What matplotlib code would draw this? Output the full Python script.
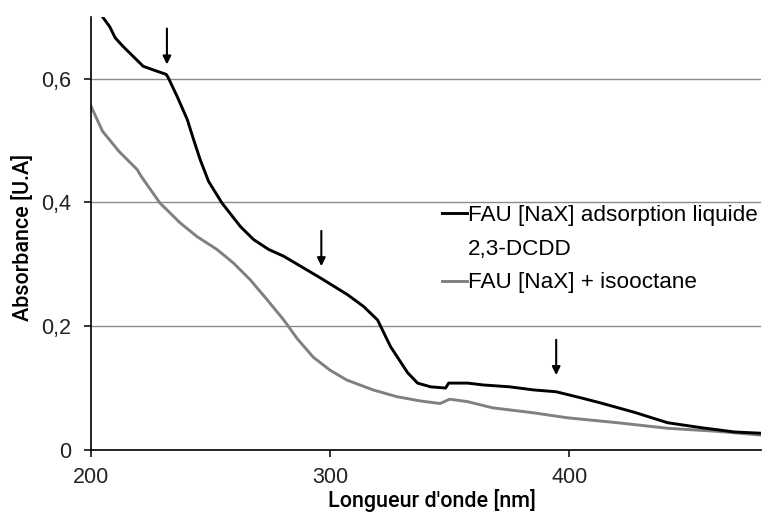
import matplotlib
matplotlib.use("Agg")
import matplotlib.pyplot as plt
from matplotlib.lines import Line2D
from matplotlib.ticker import FuncFormatter

# black curve: FAU [NaX] adsorption liquide 2,3-DCDD
dcdd_nm = [200, 203, 205, 208, 210.3, 213.6, 217.8, 222, 227.8, 231.6, 232.4,
           236.2, 240.4, 243, 245.8, 249.3, 254.9, 262.6, 268.1, 274.4, 280.7,
           287.7, 296, 307.3, 314, 319.9, 325.3, 332.4, 336.6, 342, 348.3,
           349.6, 357.6, 364, 375, 385, 394.5, 405, 413, 427, 441, 455, 469, 480]
dcdd_abs = [0.735, 0.714, 0.700, 0.684, 0.666, 0.652, 0.636, 0.620, 0.612, 0.607, 0.602,
            0.571, 0.534, 0.502, 0.469, 0.434, 0.399, 0.361, 0.340, 0.324, 0.313,
            0.297, 0.278, 0.251, 0.232, 0.210, 0.167, 0.125, 0.108, 0.102, 0.100,
            0.108, 0.108, 0.105, 0.102, 0.097, 0.094, 0.084, 0.076, 0.061, 0.044, 0.036, 0.029, 0.027]

# grey curve: FAU [NaX] + isooctane
iso_nm = [200, 205, 212, 219.5, 221, 229, 237.4, 244.4, 252.8, 259.7, 266.7,
          273.7, 280.7, 286.3, 293, 300, 307, 318, 328, 338, 346, 350, 357.5,
          368, 385, 399, 420, 441, 462, 480]
iso_abs = [0.557, 0.515, 0.482, 0.453, 0.443, 0.399, 0.367, 0.345, 0.324, 0.302, 0.275,
           0.243, 0.210, 0.180, 0.150, 0.129, 0.113, 0.097, 0.086, 0.079, 0.075, 0.082, 0.078,
           0.068, 0.060, 0.052, 0.044, 0.035, 0.030, 0.024]

labels = ["FAU [NaX] adsorption liquide", "2,3-DCDD", "FAU [NaX] + isooctane"]

# arrows marking the bands
arrow_nm = [231.9, 296.4, 394.5]
arrow_top = [0.681, 0.354, 0.178]
arrow_tip = [0.623, 0.297, 0.121]

fig = plt.figure(figsize=(7.84, 5.25), dpi=100)
ax = fig.add_axes([0.1155, 0.143, 0.855, 0.825])

ax.plot(dcdd_nm, dcdd_abs, color="black", lw=2.1, zorder=3)
ax.plot(iso_nm, iso_abs, color="#808080", lw=2.1, zorder=2)

for x, y0, y1 in zip(arrow_nm, arrow_top, arrow_tip):
    ax.annotate("", xy=(x, y1), xytext=(x, y0),
                arrowprops=dict(arrowstyle="-|>", color="black", lw=1.5,
                                mutation_scale=12, shrinkA=0, shrinkB=0))

ax.set_xlim(200, 480)
ax.set_ylim(0, 0.7)
ax.set_xticks([200, 300, 400])
ax.set_yticks([0, 0.2, 0.4, 0.6])
ax.yaxis.set_major_formatter(FuncFormatter(
    lambda v, p: "0" if v == 0 else ("%.1f" % v).replace(".", ",")))

ax.grid(axis="y", color="#8c8c8c", lw=1.0)
ax.set_axisbelow(True)
for s in ["top", "right"]:
    ax.spines[s].set_visible(False)
for s in ["left", "bottom"]:
    ax.spines[s].set_linewidth(1.2)
ax.tick_params(axis="both", direction="out", length=5, width=1.1,
               labelsize=15.5, labelcolor="#222222")
ax.tick_params(axis="y", pad=9)
ax.tick_params(axis="x", pad=7)
for t in ax.get_xticklabels() + ax.get_yticklabels():
    t.set_fontfamily("Liberation Sans")

fig.text(23 / 784, 1 - 237 / 525, "Absorbance [U.A]", rotation=90,
         ha="center", va="center", fontsize=15.5, family="Roboto",
         fontweight="medium")
fig.text(432 / 784, 1 - 501 / 525, "Longueur d'onde [nm]",
         ha="center", va="center", fontsize=15.5, family="Roboto",
         fontweight="medium")

handles = [Line2D([], [], color="black", lw=2.1),
           Line2D([], [], color="none"),
           Line2D([], [], color="#808080", lw=2.1)]
ax.legend(handles, labels, loc="upper left", bbox_to_anchor=(0.524, 0.566),
          frameon=False, borderpad=0, borderaxespad=0, handlelength=1.11,
          handletextpad=0.05, labelspacing=0.57,
          prop={"family": "Liberation Sans", "size": 16.2})

fig.savefig("out.png", dpi=100)
